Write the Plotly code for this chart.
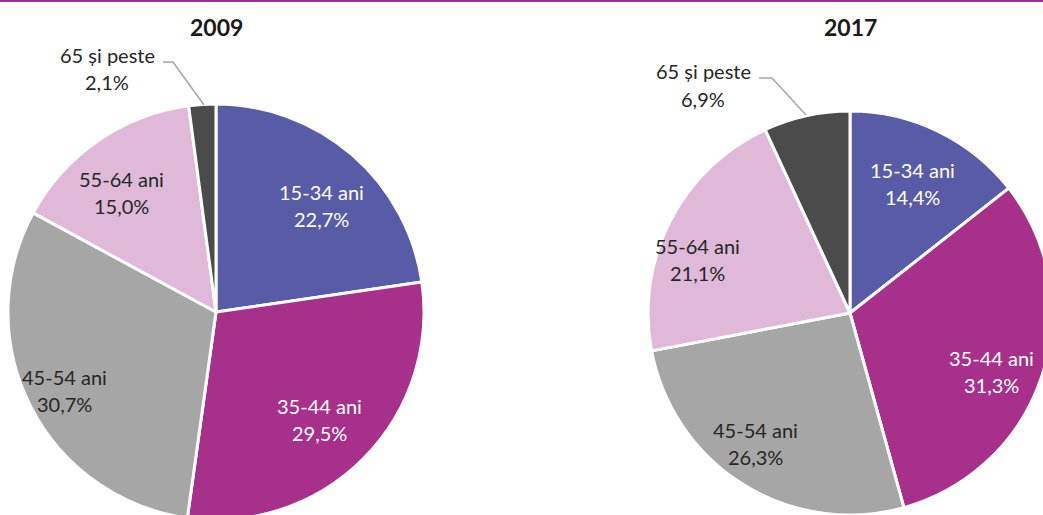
import math
import plotly.graph_objects as go

categories = ["15-34 ani", "35-44 ani", "45-54 ani", "55-64 ani", "65 și peste"]
values_2009 = [22.7, 29.5, 30.7, 15.0, 2.1]
values_2017 = [14.4, 31.3, 26.3, 21.1, 6.9]
years = ["2009", "2017"]
colors = ["#585BA6", "#A6308A", "#A6A6A6", "#E0B9D9", "#4B4B4B"]
text_colors = ["white", "white", "#262626", "#262626", "#262626"]

W, H = 1060, 530
FONT = "Lato"
FS = 20

# pie geometry in pixels (center x, center y, radius)
geo = {"2009": (216, 312, 208), "2017": (850, 313, 202)}
# label placement: (radius fraction, angular offset in degrees)
label_pos = {
    "2009": [(0.72, 3.8), (0.72, 1.3), (0.82, -0.4), (0.73, -3.8)],
    "2017": [(0.71, -0.3), (0.76, 4.4), (0.80, 4.1), (0.80, -7.8)],
}


def px(x):
    return x / W


def py(y):
    return 1 - y / H


def fmt(v):
    return f"{v:.1f}".replace(".", ",") + "%"


def ann(x, y, text, color, size=FS):
    return dict(x=px(x), y=py(y), xref="paper", yref="paper", text=text,
                showarrow=False, xanchor="center", yanchor="middle",
                font=dict(family=FONT, size=size, color=color))


fig = go.Figure()
annotations = []
shapes = []

for year, vals in zip(years, [values_2009, values_2017]):
    cx, cy, r = geo[year]
    fig.add_trace(go.Pie(
        labels=categories, values=vals, sort=False, direction="clockwise",
        rotation=0, textinfo="none", hoverinfo="label+percent",
        marker=dict(colors=colors, line=dict(color="white", width=3)),
        domain=dict(x=[px(cx - r), px(cx + r)], y=[py(cy + r), py(cy - r)]),
        showlegend=False,
    ))
    total = sum(vals)
    cum = 0
    for i, v in enumerate(vals):
        mid = (cum + v / 2) / total * 360
        cum += v
        if i == 4:
            continue
        frac, off = label_pos[year][i]
        a = math.radians(mid + off)
        rr = r * frac
        tx = cx + rr * math.sin(a)
        ty = cy - rr * math.cos(a)
        annotations.append(ann(tx, ty - 13.5, categories[i], text_colors[i]))
        annotations.append(ann(tx, ty + 13.5, fmt(v), text_colors[i]))
    annotations.append(ann(cx, 27, "<b>" + year + "</b>", "#1a1a1a", 23))

# outside labels for "65 și peste"
outside = {
    "2009": dict(lx=107, ly1=55, ly2=82, path=[(163, 62), (173, 62), (204, 105)]),
    "2017": dict(lx=703, ly1=71, ly2=99, path=[(759, 78), (772, 78), (806, 115)]),
}
for year, vals in zip(years, [values_2009, values_2017]):
    o = outside[year]
    annotations.append(ann(o["lx"], o["ly1"], categories[4], "#262626"))
    annotations.append(ann(o["lx"], o["ly2"], fmt(vals[4]), "#262626"))
    pts = o["path"]
    d = "M " + " L ".join(f"{px(x)} {py(y)}" for x, y in pts)
    shapes.append(dict(type="path", path=d, xref="paper", yref="paper",
                       line=dict(color="#A6A6A6", width=1.5)))

# purple top rule
shapes.append(dict(type="line", x0=0, x1=1, y0=py(1), y1=py(1), xref="paper", yref="paper",
                   line=dict(color="#9B2F99", width=2)))

fig.update_layout(
    width=W, height=H, margin=dict(l=0, r=0, t=0, b=0),
    paper_bgcolor="white", plot_bgcolor="white",
    annotations=annotations, shapes=shapes,
)

fig.write_html("out.html", config={"displayModeBar": False},
               post_script="document.body.style.margin='0';document.body.style.overflow='hidden';document.documentElement.style.overflow='hidden';")
